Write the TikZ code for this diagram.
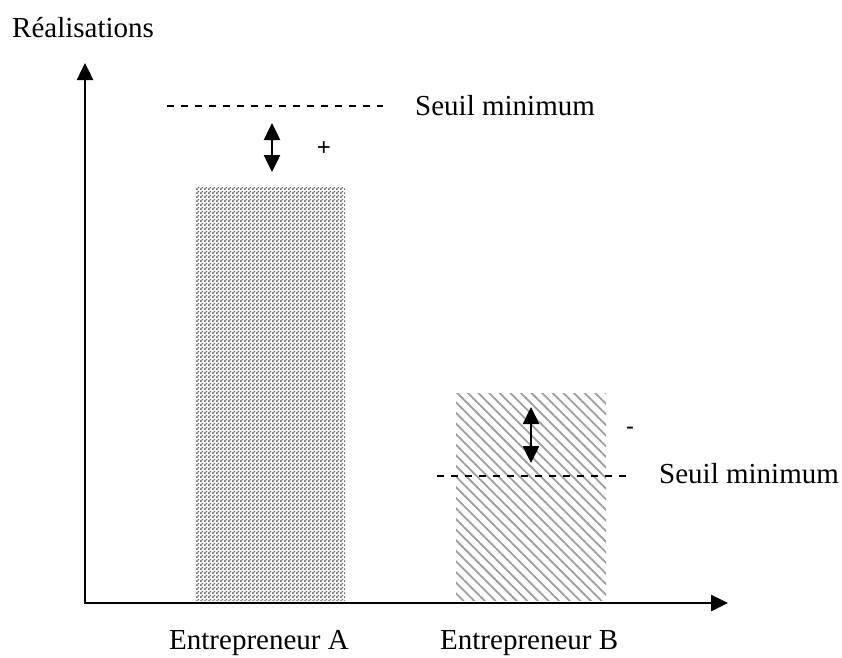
\documentclass[tikz,border=0pt]{standalone}
\usepackage{fontspec}
\setmainfont{Liberation Serif}
\newfontfamily\signfont{Liberation Sans}
\usetikzlibrary{arrows.meta,patterns.meta}
\pgfdeclarepattern{
  name=checkerA,
  type=uncolored,
  bottom left={\pgfpoint{0pt}{0pt}},
  top right={\pgfpoint{4pt}{4pt}},
  tile size={\pgfpoint{4pt}{4pt}},
  code={
    \pgfpathrectangle{\pgfpoint{0pt}{0pt}}{\pgfpoint{2pt}{2pt}}
    \pgfpathrectangle{\pgfpoint{2pt}{2pt}}{\pgfpoint{2pt}{2pt}}
    \pgfusepath{fill}
  }
}
\begin{document}
\begin{tikzpicture}[x=1pt,y=-1pt,
  lbl/.style={anchor=base west,inner sep=0pt,font=\fontsize{29}{34}\selectfont},
  sign/.style={anchor=center,inner sep=0pt,font=\signfont\fontsize{24}{26}\selectfont},
  axisline/.style={line width=2.5pt,line join=miter,
    {Triangle[length=17pt,width=16pt]}-{Triangle[length=17pt,width=16pt]}},
  dblarrow/.style={line width=2.5pt,
    {Triangle[length=17pt,width=16pt]}-{Triangle[length=17pt,width=16pt]}},
  seuil/.style={line width=1.4pt,dash pattern=on 7pt off 7pt},
  barApat/.style={pattern=checkerA,pattern color=black!60},
  barBpat/.style={pattern={Lines[angle=-45,distance=7.5pt,line width=1.8pt]},pattern color=black!38},
]
\useasboundingbox (0,0) rectangle (842,657);
% bars
\coordinate (A1) at (195,187);
\coordinate (A2) at (345,600);
\coordinate (B1) at (456,393);
\coordinate (B2) at (606,600);
\path[barApat] (A1) rectangle (A2);
\path[barBpat] (B1) rectangle (B2);
% axes
\coordinate (ytip) at (85,63);
\coordinate (O) at (85,603);
\coordinate (xtip) at (728,603);
\draw[axisline] (ytip) -- (O) -- (xtip);
% thresholds
\coordinate (s1a) at (167,106);
\coordinate (s1b) at (383,106);
\coordinate (s2a) at (437,476);
\coordinate (s2b) at (626,476);
\draw[seuil] (s1a) -- (s1b);
\draw[seuil] (s2a) -- (s2b);
% double arrows
\coordinate (d1t) at (272,123);
\coordinate (d1b) at (272,172);
\coordinate (d2t) at (531,407);
\coordinate (d2b) at (531,463);
\draw[dblarrow] (d1t) -- (d1b);
\draw[dblarrow] (d2t) -- (d2b);
% labels
\node[lbl] (real) at (12,37) {Réalisations};
\node[lbl] (seuilA) at (415,115) {Seuil minimum};
\node[lbl] (seuilB) at (659,483) {Seuil minimum};
\node[sign] (plus) at (324,149) {+};
\node[sign] (minus) at (630,431) {-};
\node[lbl] (entA) at (169,649) {Entrepreneur A};
\node[lbl] (entB) at (440,649) {Entrepreneur B};
\end{tikzpicture}
\end{document}
